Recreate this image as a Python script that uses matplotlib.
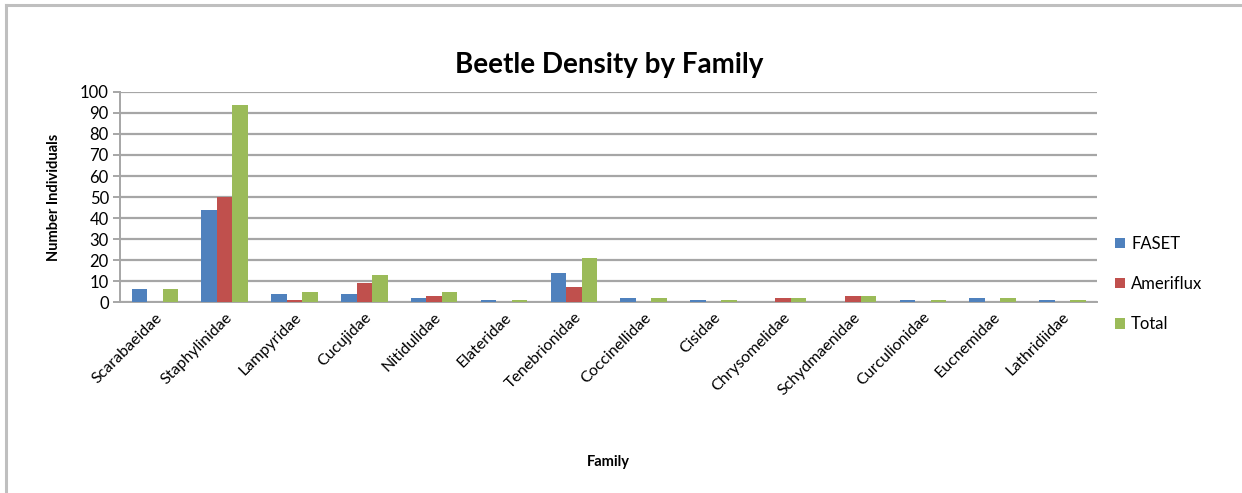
import matplotlib.pyplot as plt
import numpy as np
from matplotlib.lines import Line2D

plt.rcParams['font.family'] = ['Lato', 'DejaVu Sans']

families = ["Scarabaeidae", "Staphylinidae", "Lampyridae", "Cucujidae", "Nitidulidae",
            "Elateridae", "Tenebrionidae", "Coccinellidae", "Cisidae", "Chrysomelidae",
            "Schydmaenidae", "Curculionidae", "Eucnemidae", "Lathridiidae"]
faset = [6, 44, 4, 4, 2, 1, 14, 2, 1, 0, 0, 1, 2, 1]
ameriflux = [0, 50, 1, 9, 3, 0, 7, 0, 0, 2, 3, 0, 0, 0]
total = [6, 94, 5, 13, 5, 1, 21, 2, 1, 2, 3, 1, 2, 1]

series = [("FASET", faset, "#4F81BD"),
          ("Ameriflux", ameriflux, "#C0504D"),
          ("Total", total, "#9BBB59")]

fig = plt.figure(figsize=(12.42, 4.93), dpi=100)
ax = fig.add_axes([0.0966, 0.3874, 0.7870, 0.4260])

# chart frame: only top and left edges fall inside the picture
frame_col = "#BFBFBF"
fig.lines.append(Line2D([0.0045, 0.0045], [0.0, 0.99], transform=fig.transFigure,
                        color=frame_col, linewidth=2.2))
fig.lines.append(Line2D([0.0045, 1.0], [0.99, 0.99], transform=fig.transFigure,
                        color=frame_col, linewidth=2.2))

x = np.arange(len(families))
w = 0.222
for i, (name, vals, col) in enumerate(series):
    ax.bar(x + (i - 1) * w, vals, width=w, color=col, label=name, zorder=3)

ax.set_xlim(-0.5, len(families) - 0.5)
ax.set_ylim(0, 100)
ax.set_yticks(range(0, 101, 10))
ax.yaxis.grid(True, color="#A6A6A6", linewidth=1.6, zorder=0)
for s in ["top", "right"]:
    ax.spines[s].set_visible(False)
for s in ["bottom", "left"]:
    ax.spines[s].set_color("#A6A6A6")
    ax.spines[s].set_linewidth(1.4)
ax.tick_params(axis="y", length=5, color="#A6A6A6", width=1.4, labelsize=12, pad=3)
ax.tick_params(axis="x", length=0, pad=6)

ax.set_xticks(x)
ax.set_xticklabels(families, rotation=45, ha="right", va="top",
                   rotation_mode="anchor", fontsize=11.5)

ax.set_title("Beetle Density by Family", fontsize=20, fontweight="bold", pad=14)
ax.set_ylabel("Number Individuals", fontsize=10.5, fontweight="bold", labelpad=14)
ax.text(0.5, -0.76, "Family", transform=ax.transAxes, ha="center", va="center",
        fontsize=10.5, fontweight="bold")

leg = ax.legend(loc="center left", bbox_to_anchor=(1.003, 0.086), frameon=False,
                fontsize=12, handlelength=0.6, handleheight=0.6, handletextpad=0.35,
                labelspacing=1.45)

fig.savefig("out.png", dpi=100)
